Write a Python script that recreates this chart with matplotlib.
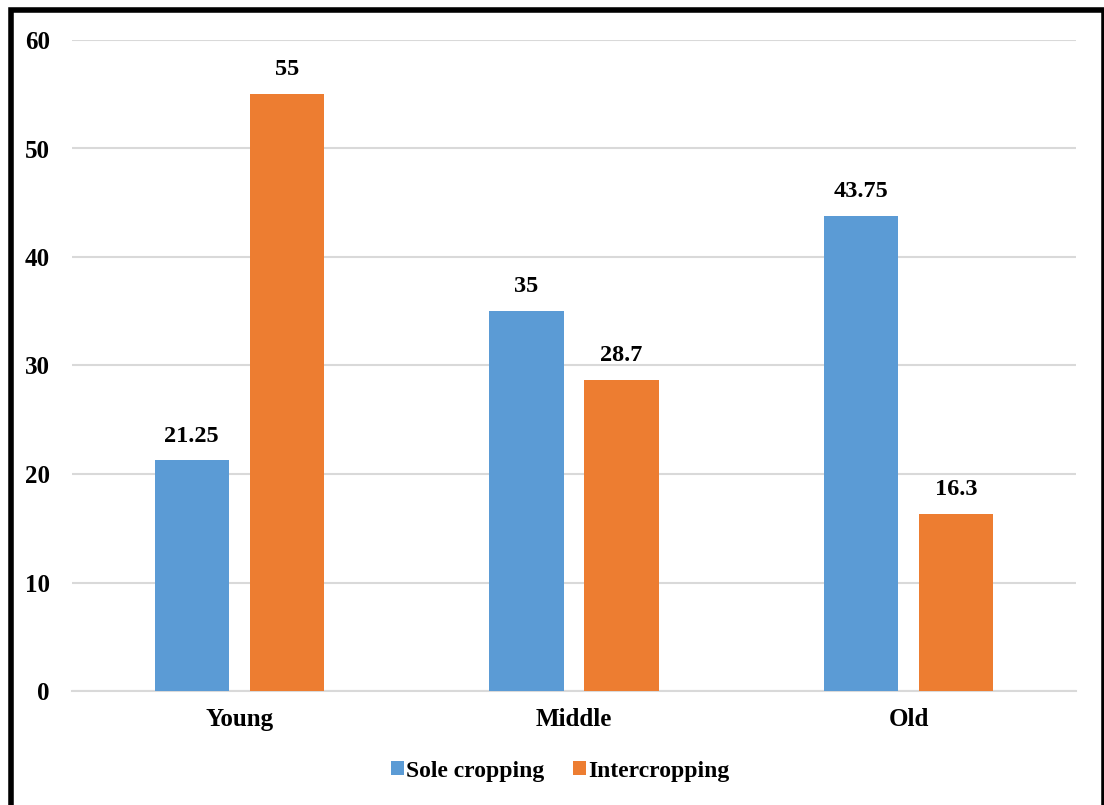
import matplotlib
matplotlib.use('Agg')
import matplotlib.pyplot as plt
from matplotlib.patches import Rectangle
import numpy as np

categories = ['Young', 'Middle', 'Old']
sole = [21.25, 35, 43.75]
inter = [55, 28.7, 16.3]
series_names = ['Sole cropping', 'Intercropping']
colors = ['#5B9BD5', '#ED7D31']

plt.rcParams['font.family'] = ['Liberation Serif', 'DejaVu Serif']
plt.rcParams['font.weight'] = 'bold'

fig = plt.figure(figsize=(11.04, 8.05), dpi=100)
ax = fig.add_axes([72/1104, 1-691/805, 1004/1104, 651/805])

x = np.arange(len(categories))
w = 0.222
off = 0.142
b1 = ax.bar(x - off, sole, w, color=colors[0], label=series_names[0], zorder=3)
b2 = ax.bar(x + off, inter, w, color=colors[1], label=series_names[1], zorder=3)

for bars, vals in ((b1, sole), (b2, inter)):
    for r, v in zip(bars, vals):
        ax.annotate(f'{v:g}', (r.get_x() + r.get_width()/2, v),
                    xytext=(0, 10), textcoords='offset points',
                    ha='center', va='bottom', fontsize=17.5, fontweight='bold')

ax.set_xlim(-0.5, 2.5)
ax.set_ylim(0, 60)
ax.set_yticks(range(0, 61, 10))
ax.set_xticks(x)
ax.set_xticklabels(categories)
ax.yaxis.grid(True, color='#D9D9D9', linewidth=1.5, zorder=0)
ax.tick_params(axis='both', length=0, labelsize=18)
ax.tick_params(axis='y', pad=16)
ax.tick_params(axis='x', pad=12)
for s in ['top', 'right', 'left']:
    ax.spines[s].set_visible(False)
ax.spines['bottom'].set_color('#D9D9D9')
ax.spines['bottom'].set_linewidth(1.5)

fig.legend(loc='center', bbox_to_anchor=(560/1104, 1-771/805), ncol=2, frameon=False,
           fontsize=17, handlelength=0.55, handleheight=0.55, handletextpad=0.1,
           columnspacing=1.2)

# outer frame, bottom edge runs off the canvas
fig.patches.append(Rectangle((10.5/1104, -0.05), (1104 - 10.5)/1104, 1.05 - 10.5/805,
                             transform=fig.transFigure, fill=False,
                             edgecolor='black', linewidth=4, zorder=10))

fig.savefig('out.png', dpi=100)
